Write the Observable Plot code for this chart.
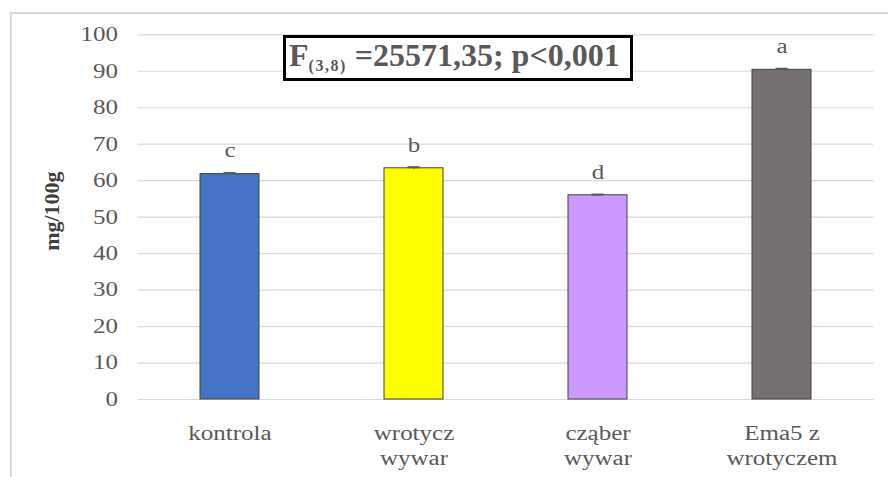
<!DOCTYPE html>
<html>
<head>
<meta charset="utf-8">
<script src="https://cdn.jsdelivr.net/npm/d3@7"></script>
<script src="https://cdn.jsdelivr.net/npm/@observablehq/plot@0.6"></script>
<style>
  html, body { margin: 0; padding: 0; background: #fff; }
  #wrap { position: relative; width: 888px; height: 477px; overflow: hidden; }
  #frame { position: absolute; left: 10px; top: 12px; width: 900px; height: 500px;
           border-top: 2px solid #d9d9d9; border-left: 2px solid #d9d9d9; box-sizing: border-box; }
  #stat { position: absolute; left: 283px; top: 35px; width: 350px; height: 46px;
          border: 3px solid #000; box-sizing: border-box; background: #fff;
          font-family: "Liberation Serif", "Times New Roman", Tinos, "DejaVu Serif", serif;
          font-weight: bold; color: #595959;
          font-size: 32px; line-height: 34px; white-space: nowrap; padding-left: 3px; }
  #stat sub { font-size: 16px; letter-spacing: 1.5px; vertical-align: -5px; line-height: 0; }
  #chart { position: absolute; left: 0; top: 0; }
</style>
</head>
<body>
<div id="wrap">
  <div id="frame"></div>
  <div id="chart"></div>
  <div id="stat">F<sub>(3,8)</sub> =25571,35; p&lt;0,001</div>
</div>
<script>
// Mean content (mg/100g) per sample, with standard deviation and homogeneous-group letters
const categories = ["kontrola", "wrotycz\nwywar", "cząber\nwywar", "Ema5 z\nwrotyczem"];
const values = [61.8, 63.4, 56.0, 90.4];
const errors = [0.3, 0.3, 0.2, 0.3];
const letters = ["c", "b", "d", "a"];
const colors = ["#4472C4", "#FFFF00", "#CC99FF", "#767171"];
const yTicks = [0, 10, 20, 30, 40, 50, 60, 70, 80, 90, 100];

const serif = "'Liberation Serif', 'Times New Roman', Tinos, 'DejaVu Serif', serif";

const data = categories.map((c, i) => ({
  category: c, value: values[i], err: errors[i], letter: letters[i], color: colors[i]
}));

const chart = Plot.plot({
  width: 888,
  height: 477,
  marginLeft: 137.5,
  marginRight: 14.5,
  marginTop: 34.3,
  marginBottom: 78,
  style: { fontFamily: serif, fontSize: "20px", color: "#595959", background: "transparent" },
  x: { domain: categories, paddingInner: 0.68, paddingOuter: 0.34, label: null },
  y: { domain: [0, 100], label: null },
  marks: [
    Plot.gridY(yTicks, { stroke: "#d9d9d9", strokeOpacity: 1, strokeWidth: 1.2 }),
    Plot.axisY(yTicks, { tickSize: 0, tickPadding: 20, fontSize: 20, fontFamily: serif, label: null }),
    Plot.axisX({ tickSize: 0, tickPadding: 23, fontSize: 20, fontFamily: serif, lineHeight: 1.25, label: null }),
    Plot.barY(data, { x: "category", y: "value", fill: "color", stroke: "#404040", strokeWidth: 1 }),
    Plot.ruleX(data, { x: "category", y1: d => d.value - d.err, y2: d => d.value + d.err, stroke: "#595959", strokeWidth: 1.5 }),
    Plot.tickY(data, { x: "category", y: d => d.value + d.err, stroke: "#595959", strokeWidth: 2 }),
    Plot.text(data, { x: "category", y: d => d.value + d.err, text: "letter", dy: -22, fontSize: 20, fontFamily: serif, fill: "#595959" }),
    Plot.text(["mg/100g"], { frameAnchor: "left", textAnchor: "middle", dx: -86, dy: -6, rotate: -90,
      fontSize: 22, fontFamily: serif, fontWeight: "bold", fill: "#404040", className: "ylabel" })
  ]
});

// Short caps: shrink the band-wide error ticks to a small centered segment
const capWidth = 12;
d3.select(chart).selectAll("line").each(function () {
  const el = d3.select(this);
  const x1 = +el.attr("x1"), x2 = +el.attr("x2");
  if (!isNaN(x1) && !isNaN(x2) && x2 - x1 > capWidth && x2 - x1 < 100) {
    const cx = (x1 + x2) / 2;
    el.attr("x1", cx - capWidth / 2).attr("x2", cx + capWidth / 2);
  }
});

// Widen the upright labels a little, as in the wide serif typesetting of the original chart
d3.select(chart).selectAll("text").each(function () {
  if (this.closest(".ylabel")) return;
  const t = this.getAttribute("transform");
  if (t) this.setAttribute("transform", t + " scale(1.25,1)");
});

document.getElementById("chart").appendChild(chart);
</script>
</body>
</html>
